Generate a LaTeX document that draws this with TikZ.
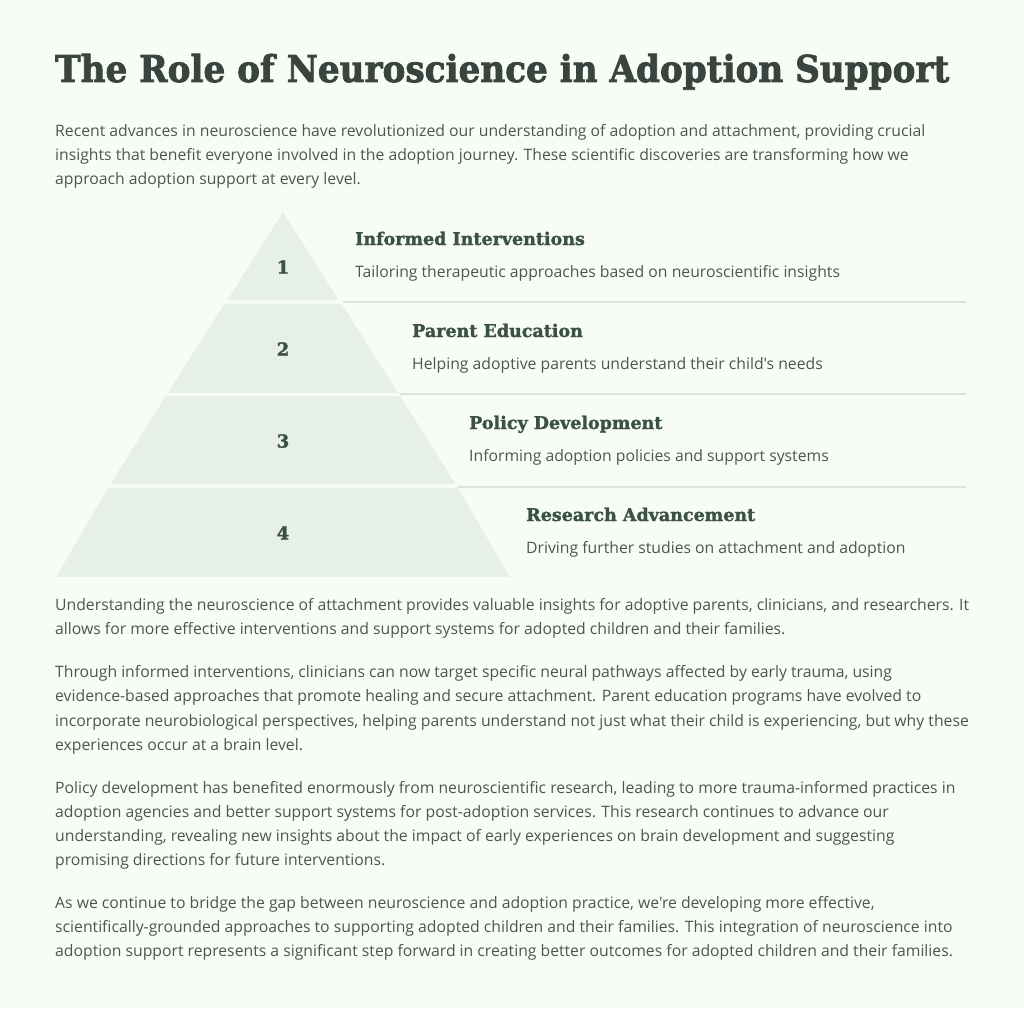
\documentclass[tikz,border=0pt]{standalone}
\usepackage{fontspec}
\setmainfont{Open Sans}
\newfontfamily\headfont{DejaVu Serif}[BoldFeatures={FakeBold=1.6}]
\newfontfamily\titlefont{DejaVu Serif}[BoldFeatures={FakeBold=2.2}]
\newfontfamily\bodyfont{Open Sans}
\definecolor{bg}{HTML}{F8FCF7}
\definecolor{titlecol}{HTML}{38443D}
\definecolor{headcol}{HTML}{3B5242}
\definecolor{bodycol}{HTML}{4A5750}
\definecolor{pyrcol}{HTML}{E6F0E6}
\definecolor{rulecol}{HTML}{DCE3DC}
\tikzset{
  body/.style={anchor=base west, inner sep=0pt, text=bodycol, font=\bodyfont\fontsize{15.75}{24.3}\selectfont, align=left},
  headtext/.style={anchor=base west, inner sep=0pt, text=headcol, font=\headfont\bfseries\fontsize{17.5}{20}\selectfont},
  desctext/.style={anchor=base west, inner sep=0pt, text=bodycol, font=\bodyfont\fontsize{15.75}{20}\selectfont},
  numtext/.style={inner sep=0pt, text=headcol, font=\headfont\bfseries\fontsize{18}{20}\selectfont},
  layer/.style={fill=pyrcol, draw=none},
  sep/.style={draw=rulecol, line width=1.4pt},
}
\begin{document}
\begin{tikzpicture}[x=1pt,y=-1pt]
\useasboundingbox[fill=bg] (0,0) rectangle (1024,1008);
% title
\node[anchor=base west, inner sep=0pt, text=titlecol, font=\titlefont\bfseries\fontsize{37}{44}\selectfont] (title) at (55,82) {\scalebox{0.925}[1]{The Role of Neuroscience in Adoption Support}};
% intro
\node[body] (intro1) at (55,137) {Recent advances in neuroscience have revolutionized our understanding of adoption and attachment, providing crucial};
\node[body] (intro2) at (55,161) {insights that benefit everyone involved in the adoption journey. These scientific discoveries are transforming how we};
\node[body] (intro3) at (55,185) {approach adoption support at every level.};
% pyramid layers
\fill[layer] (283,212) -- (338.5,300) -- (227.5,300) -- cycle;
\fill[layer] (224.3,304) -- (341.7,304) -- (398.3,393) -- (167.7,393) -- cycle;
\fill[layer] (166,396) -- (400,396) -- (455.5,484) -- (110.5,484) -- cycle;
\fill[layer] (108,488) -- (458,488) -- (510,577) -- (56,577) -- cycle;
\node[numtext] (n1) at (283,267) {1};
\node[numtext] (n2) at (283,349) {2};
\node[numtext] (n3) at (283,441) {3};
\node[numtext] (n4) at (283,533) {4};
% separators
\coordinate (s1a) at (343,302); \coordinate (s1b) at (966,302);
\coordinate (s2a) at (400,394); \coordinate (s2b) at (966,394);
\coordinate (s3a) at (457,487); \coordinate (s3b) at (966,487);
\draw[sep] (s1a) -- (s1b);
\draw[sep] (s2a) -- (s2b);
\draw[sep] (s3a) -- (s3b);
% rows
\node[headtext] (h1) at (355,245) {Informed Interventions};
\node[desctext] (d1) at (355,277) {Tailoring therapeutic approaches based on neuroscientific insights};
\node[headtext] (h2) at (412,337) {Parent Education};
\node[desctext] (d2) at (412,369) {Helping adoptive parents understand their child's needs};
\node[headtext] (h3) at (469,429) {Policy Development};
\node[desctext] (d3) at (469,461) {Informing adoption policies and support systems};
\node[headtext] (h4) at (526,521) {Research Advancement};
\node[desctext] (d4) at (526,553) {Driving further studies on attachment and adoption};
% paragraphs
\node[body] (p1a) at (55,610) {Understanding the neuroscience of attachment provides valuable insights for adoptive parents, clinicians, and researchers. It};
\node[body] (p1b) at (55,634) {allows for more effective interventions and support systems for adopted children and their families.};
\node[body] (p2a) at (55,677) {Through informed interventions, clinicians can now target specific neural pathways affected by early trauma, using};
\node[body] (p2b) at (55,701) {evidence-based approaches that promote healing and secure attachment. Parent education programs have evolved to};
\node[body] (p2c) at (55,726) {incorporate neurobiological perspectives, helping parents understand not just what their child is experiencing, but why these};
\node[body] (p2d) at (55,750) {experiences occur at a brain level.};
\node[body] (p3a) at (55,793) {Policy development has benefited enormously from neuroscientific research, leading to more trauma-informed practices in};
\node[body] (p3b) at (55,817) {adoption agencies and better support systems for post-adoption services. This research continues to advance our};
\node[body] (p3c) at (55,841) {understanding, revealing new insights about the impact of early experiences on brain development and suggesting};
\node[body] (p3d) at (55,865) {promising directions for future interventions.};
\node[body] (p4a) at (55,908) {As we continue to bridge the gap between neuroscience and adoption practice, we're developing more effective,};
\node[body] (p4b) at (55,932) {scientifically-grounded approaches to supporting adopted children and their families. This integration of neuroscience into};
\node[body] (p4c) at (55,956) {adoption support represents a significant step forward in creating better outcomes for adopted children and their families.};
\end{tikzpicture}
\end{document}
